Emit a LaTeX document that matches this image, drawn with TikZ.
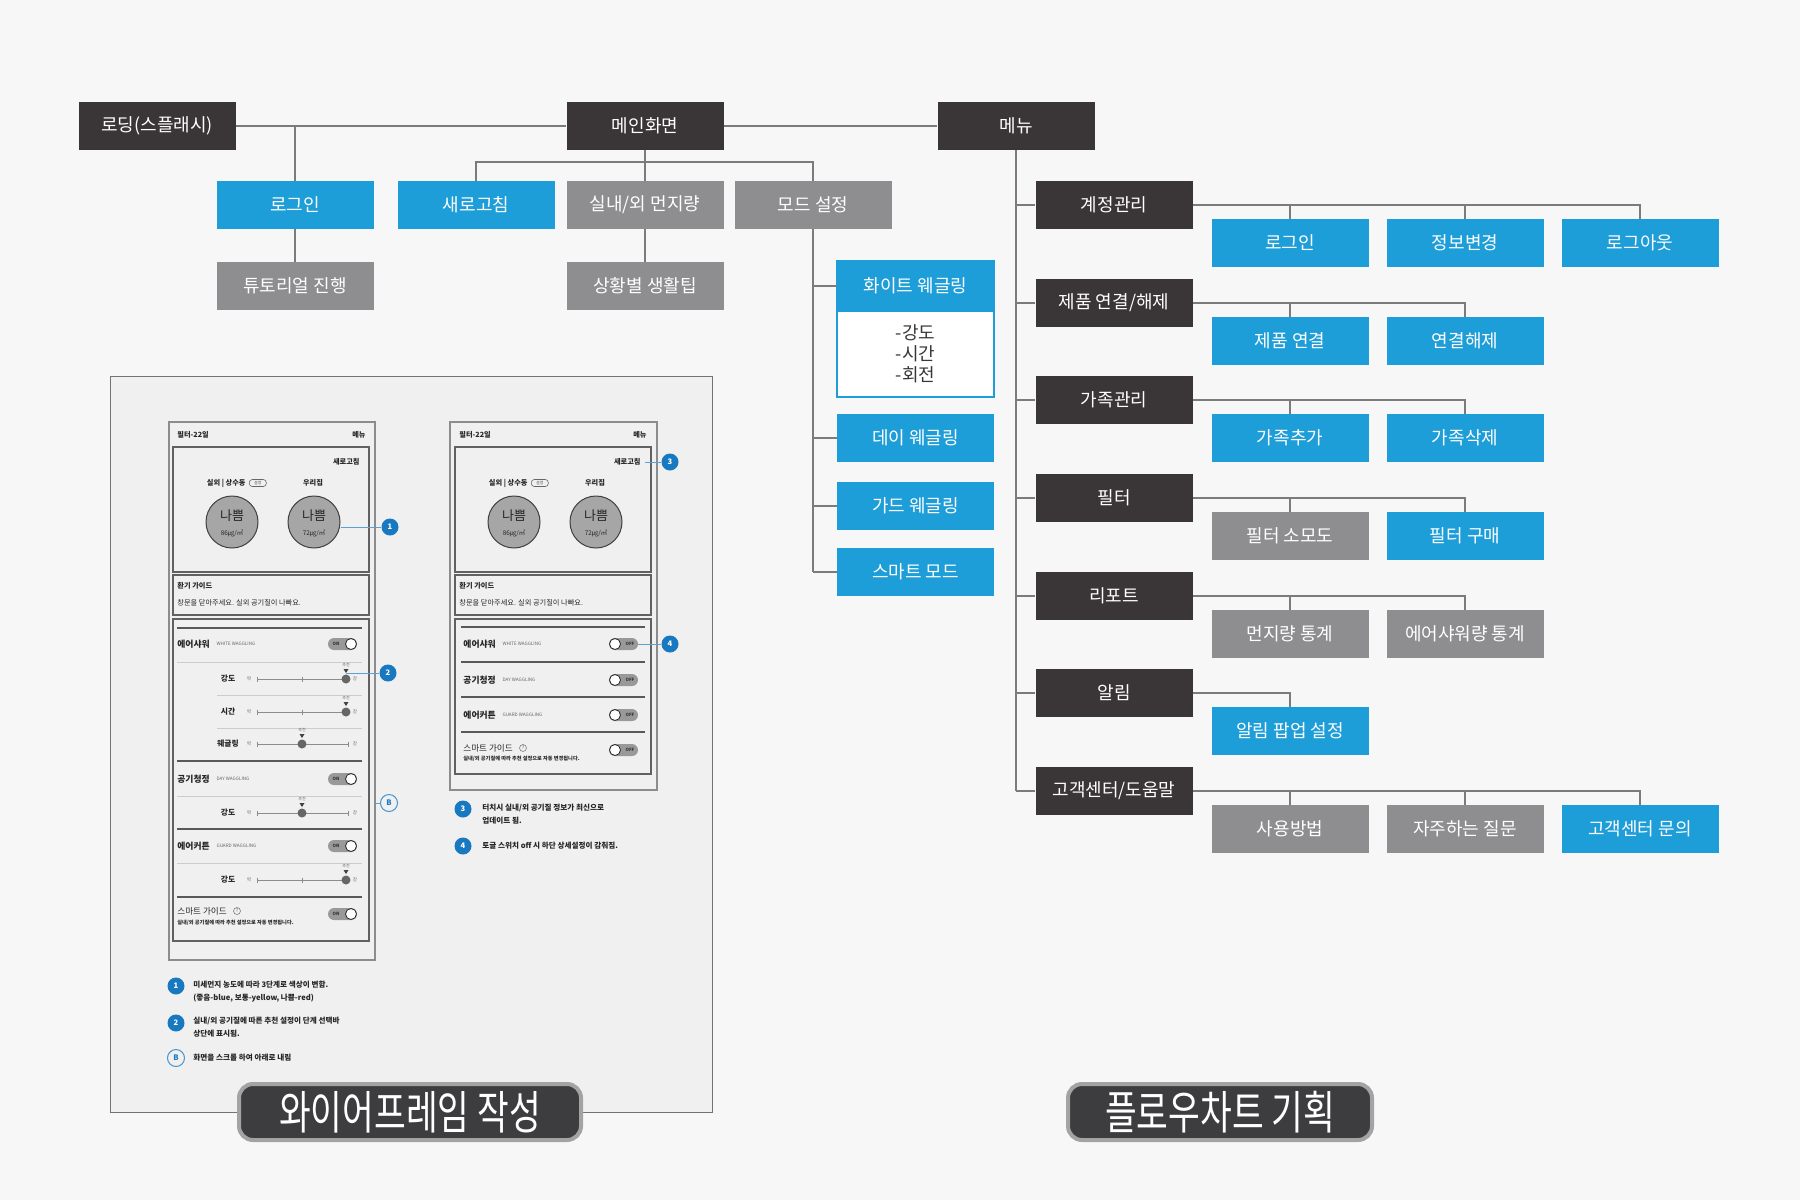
\documentclass[tikz,border=0pt]{standalone}
\usepackage{fontspec}
\setmainfont{Noto Sans CJK KR}
\newfontfamily\titlefont[FakeStretch=0.75]{Noto Sans CJK KR}
\usepackage{xcolor}
\usetikzlibrary{positioning}

\definecolor{bgcol}{HTML}{F7F7F7}
\definecolor{boxdark}{HTML}{3A3637}
\definecolor{boxblue}{HTML}{1E9ED8}
\definecolor{boxgray}{HTML}{8E8E91}
\definecolor{linecol}{HTML}{7B7B7B}
\definecolor{panelcol}{HTML}{F0F0F0}
\definecolor{callblue}{HTML}{1878C0}
\definecolor{titledark}{HTML}{3D3D3F}
\definecolor{titlegray}{HTML}{A3A3A3}
\definecolor{aqgray}{HTML}{A6A6A6}

\begin{document}
\begin{tikzpicture}[x=0.5pt, y=-0.5pt,
    box/.style={minimum width=78.5pt, minimum height=24pt, inner sep=0pt, text=white, font=\fontsize{9}{10}\selectfont},
    darkbox/.style={box, fill=boxdark},
    bluebox/.style={box, fill=boxblue},
    graybox/.style={box, fill=boxgray},
    link/.style={draw=linecol, line width=0.9pt},
    titlebox/.style={fill=titledark, draw=titlegray, line width=2pt, rounded corners=7pt, minimum height=28pt, inner sep=0pt, text=white, font=\titlefont\fontsize{23}{23}\selectfont},
    phone/.style={draw=black!45, line width=0.6pt, fill=panelcol, inner sep=0pt},
    wfbox/.style={draw=black!62, line width=0.7pt},
    wftext/.style={inner sep=0pt, text=black!85, font=\fontsize{3.6}{4}\selectfont},
    wfbold/.style={inner sep=0pt, text=black!85, font=\bfseries\fontsize{3.6}{4}\selectfont},
    wfrow/.style={inner sep=0pt, text=black!85, font=\bfseries\fontsize{4.4}{5}\selectfont},
    wfslab/.style={inner sep=0pt, text=black!85, font=\bfseries\fontsize{3.9}{4}\selectfont},
    wfsub/.style={inner sep=0pt, text=black!60, font=\fontsize{2.3}{3}\selectfont},
    wfnote/.style={inner sep=0pt, anchor=west, text=black!85, font=\bfseries\fontsize{3.8}{4}\selectfont},
    aqring/.style={circle, minimum size=26pt, inner sep=0pt, fill=aqgray, draw=black!75, line width=0.5pt},
    pill/.style={draw=black!60, line width=0.3pt, rounded corners=1.5pt, minimum width=8.5pt, minimum height=3.5pt, inner sep=0pt, font=\fontsize{2}{2}\selectfont, text=black!70},
    togglepill/.style={minimum width=14.5pt, minimum height=6pt, inner sep=0pt, rounded corners=3pt, fill=black!40},
    knob/.style={circle, minimum size=5.5pt, inner sep=0pt, fill=white, draw=black!85, line width=0.4pt},
    togtext/.style={inner sep=0pt, font=\bfseries\fontsize{2.2}{2}\selectfont, text=black!80},
    slide/.style={draw=black!45, line width=0.4pt},
    dot/.style={circle, minimum size=4.5pt, inner sep=0pt, fill=black!60},
    sepdark/.style={draw=black!65, line width=0.6pt},
    seplight/.style={draw=black!20, line width=0.4pt},
    callout/.style={circle, minimum size=8.5pt, inner sep=0pt, fill=callblue, text=white, font=\bfseries\fontsize{3.8}{4}\selectfont},
    outcallout/.style={circle, minimum size=8.5pt, inner sep=0pt, fill=panelcol, draw=callblue!80, line width=0.5pt, text=callblue, font=\bfseries\fontsize{3.8}{4}\selectfont},
    callline/.style={draw=callblue!70!white, line width=0.5pt}
  ]
  \fill[bgcol] (0,0) rectangle (1800,1200);
  \useasboundingbox (0,0) rectangle (1800,1200);

  % top level
  \node[darkbox] (load) at (157,126) {로딩(스플래시)};
  \node[darkbox] (main) at (645,126) {메인화면};
  \node[darkbox] (menu) at (1016,126) {메뉴};

  \node[bluebox] (login) at (295,205) {로그인};
  \node[graybox] (tutor) at (295,286) {튜토리얼 진행};
  \node[bluebox] (refresh) at (476,205) {새로고침};
  \node[graybox] (dust) at (645,205) {실내/외 먼지량};
  \node[graybox] (tips) at (645,286) {상황별 생활팁};
  \node[graybox] (mode) at (813,205) {모드 설정};

  % modes
  \node[bluebox, minimum height=25pt, draw=boxblue, line width=0.8pt, outer sep=0pt] (white) at (915.5,286) {화이트 웨글링};
  \node[box, below=0pt of white, minimum height=43pt, outer sep=0pt, fill=white, draw=boxblue, line width=0.8pt, text=boxdark, align=center, font=\fontsize{9}{10.5}\selectfont] (whitelist) {-강도\\-시간\\-회전};
  \node[bluebox] (day) at (915.5,438) {데이 웨글링};
  \node[bluebox] (guard) at (915.5,506) {가드 웨글링};
  \node[bluebox] (smart) at (915.5,572) {스마트 모드};

  % menu
  \node[darkbox] (account) at (1114,205) {계정관리};
  \node[darkbox] (product) at (1114,303) {제품 연결/해제};
  \node[darkbox] (family) at (1114,400) {가족관리};
  \node[darkbox] (filter) at (1114,498) {필터};
  \node[darkbox] (report) at (1114,596) {리포트};
  \node[darkbox] (alarm) at (1114,693) {알림};
  \node[darkbox] (help) at (1114,791) {고객센터/도움말};

  \node[bluebox] (acclogin) at (1290,243) {로그인};
  \node[bluebox] (accinfo) at (1465,243) {정보변경};
  \node[bluebox] (acclogout) at (1640,243) {로그아웃};
  \node[bluebox] (prodlink) at (1290,341) {제품 연결};
  \node[bluebox] (produnlink) at (1465,341) {연결해제};
  \node[bluebox] (famadd) at (1290,438) {가족추가};
  \node[bluebox] (famdel) at (1465,438) {가족삭제};
  \node[graybox] (filtlife) at (1290,536) {필터 소모도};
  \node[bluebox] (filtbuy) at (1465,536) {필터 구매};
  \node[graybox] (repdust) at (1290,634) {먼지량 통계};
  \node[graybox] (repshower) at (1465,634) {에어샤워량 통계};
  \node[bluebox] (alarmpop) at (1290,731) {알림 팝업 설정};
  \node[graybox] (helpuse) at (1290,829) {사용방법};
  \node[graybox] (helpfaq) at (1465,829) {자주하는 질문};
  \node[bluebox] (helpask) at (1640,829) {고객센터 문의};

  % connectors
  \draw[link] (load) -- (main);
  \draw[link] (main) -- (menu);
  \draw[link] (login.north |- load.east) -- (login);
  \draw[link] (login) -- (tutor);
  \draw[link] (main) -- (dust);
  \draw[link] (dust) -- (tips);
  \coordinate (mainfork) at (645,162);
  \draw[link] (refresh.north) |- (mainfork) -| (mode.north);
  \draw[link] (mode.south) -- (mode.south |- smart.west);
  \foreach \m in {white, day, guard, smart}
    \draw[link] (mode.south |- \m.west) -- (\m.west);

  \draw[link] (menu.south) -- (menu.south |- help.west);
  \foreach \c in {account, product, family, filter, report, alarm, help}
    \draw[link] (menu.south |- \c.west) -- (\c.west);
  \foreach \p/\c in {account/acclogout, product/produnlink, family/famdel, filter/filtbuy, report/repshower, alarm/alarmpop, help/helpask}
    \draw[link] (\p.east) -| (\c.north);
  \foreach \p/\c in {account/acclogin, account/accinfo, product/prodlink, family/famadd, filter/filtlife, report/repdust, help/helpuse, help/helpfaq}
    \draw[link] (\c.north) -- (\c.north |- \p.east);

  % wireframe panel
  \draw[draw=black!55, fill=panelcol, line width=0.5pt] (110,376) rectangle (712,1112);

  % phone 1
  \node[phone, minimum width=103pt, minimum height=269pt] (phone1) at (272,691) {};
  \node[wfbold, anchor=west] (p1date) at (177,435) {필터-22일};
  \node[wfbold, anchor=east] (p1menu) at (366,435) {메뉴};
  \draw[wfbox] (173,447) rectangle (369,572);
  \node[wfbold, anchor=east] (p1refresh) at (360,462) {새로고침};
  \node[wfbold, anchor=east] (p1out) at (246,483) {실외 | 상수동};
  \node[pill, right=1.5pt of p1out] (p1set) {설정};
  \node[wfbold] (p1home) at (313,483) {우리집};
  \node[aqring] (p1aqout) at (232,522) {};
  \node[aqring] (p1aqhome) at (314,522) {};
  \node[inner sep=0pt, font=\fontsize{6.5}{7}\selectfont, text=black!85] (p1bad1) at (232,516) {나쁨};
  \node[inner sep=0pt, font=\fontsize{6.5}{7}\selectfont, text=black!85] (p1bad2) at (314,516) {나쁨};
  \node[wftext, font=\fontsize{3.2}{4}\selectfont] (p1val1) at (232,533) {86㎍/㎥};
  \node[wftext, font=\fontsize{3.2}{4}\selectfont] (p1val2) at (314,533) {72㎍/㎥};

  \draw[wfbox] (173,575) rectangle (369,615);
  \node[wfbold, anchor=west] (p1guide) at (177,586) {환기 가이드};
  \node[wftext, anchor=west] (p1guidetxt) at (177,603) {창문을 닫아주세요. 실외 공기질이 나빠요.};

  \draw[wfbox] (173,619) rectangle (369,941);
  \foreach \ly in {628,761,829,897}
    \draw[sepdark] (177,\ly) -- (362,\ly);
  \foreach \ly in {662,796,863}
    \draw[seplight] (177,\ly) -- (362,\ly);
  \foreach \ly in {695,728}
    \draw[seplight] (217,\ly) -- (362,\ly);

  \foreach \ry/\kr/\en in {644/에어샤워/WHITE WAGGLING, 779/공기청정/DAY WAGGLING, 846/에어커튼/GUARD WAGGLING} {
    \node[wfrow, anchor=west] (p1row\ry) at (177,\ry) {\kr};
    \node[wfsub, right=3pt of p1row\ry] (p1sub\ry) {\en};
  }
  \foreach \ty in {644,779,846,914} {
    \node[togglepill] (p1tog\ty) at (342.5,\ty) {};
    \node[knob] (p1knob\ty) at (351,\ty) {};
    \node[togtext] (p1on\ty) at (336,\ty) {ON};
  }
  \foreach \sy/\kx/\lab in {679/346/강도, 712/346/시간, 744/302/웨글링, 813/302/강도, 880/346/강도} {
    \node[wfslab] (p1lab\sy) at (228,\sy) {\lab};
    \node[wfsub] (p1weak\sy) at (249,\sy) {약};
    \node[wfsub] (p1strong\sy) at (355,\sy) {강};
    \draw[slide] (257,\sy) -- (348,\sy);
    \foreach \tx in {257,302,348}
      \draw[slide] (\tx,\sy-2.5) -- (\tx,\sy+2.5);
    \node[dot] (p1dot\sy) at (\kx,\sy) {};
    \node[wfsub, font=\fontsize{2}{2}\selectfont] (p1rec\sy) at (\kx,\sy-14) {추천};
    \fill[black!75] (\kx-2.5,\sy-10) -- (\kx+2.5,\sy-10) -- (\kx,\sy-6) -- cycle;
  }
  \node[wftext, anchor=west, font=\fontsize{4.3}{5}\selectfont] (p1smart) at (177,911) {스마트 가이드};
  \node[circle, draw=black!50, line width=0.3pt, inner sep=0pt, minimum size=3.5pt, text=black!60, font=\fontsize{2.5}{2}\selectfont, right=3pt of p1smart] (p1help) {?};
  \node[wftext, anchor=west, font=\bfseries\fontsize{2.6}{3}\selectfont] (p1smarttxt) at (177,923) {실내/외 공기질에 따라 추천 설정으로 자동 변경됩니다.};

  % phone 1 callouts
  \node[callout] (c1) at (390,527) {1};
  \draw[callline] (p1aqhome.east |- c1) -- (c1);
  \node[callout] (c2) at (388,673) {2};
  \draw[callline] (c2 -| p1dot679) -- (c2);
  \node[outcallout] (cB) at (389,803) {B};
  \draw[callline] (cB -| phone1.east) -- (cB);

  \node[callout] (n1) at (176,986) {1};
  \node[wfnote] (n1a) at (193,985) {미세먼지 농도에 따라 3단계로 색상이 변함.};
  \node[wfnote] (n1b) at (193,998) {(좋음-blue, 보통-yellow, 나쁨-red)};
  \node[callout] (n2) at (176,1023) {2};
  \node[wfnote] (n2a) at (193,1021) {실내/외 공기질에 따른 추천 설정이 단계 선택바};
  \node[wfnote] (n2b) at (193,1034) {상단에 표시됨.};
  \node[outcallout] (nB) at (176,1058) {B};
  \node[wfnote] (nBa) at (193,1058) {화면을 스크롤 하여 아래로 내림};

  % phone 2
  \node[phone, minimum width=103.5pt, minimum height=184pt] (phone2) at (553.5,606) {};
  \node[wfbold, anchor=west] (p2date) at (459,435) {필터-22일};
  \node[wfbold, anchor=east] (p2menu) at (647,435) {메뉴};
  \draw[wfbox] (455,447) rectangle (651,572);
  \node[wfbold, anchor=east] (p2refresh) at (641,462) {새로고침};
  \node[wfbold, anchor=east] (p2out) at (528,483) {실외 | 상수동};
  \node[pill, right=1.5pt of p2out] (p2set) {설정};
  \node[wfbold] (p2home) at (595,483) {우리집};
  \node[aqring] (p2aqout) at (514,522) {};
  \node[aqring] (p2aqhome) at (596,522) {};
  \node[inner sep=0pt, font=\fontsize{6.5}{7}\selectfont, text=black!85] (p2bad1) at (514,516) {나쁨};
  \node[inner sep=0pt, font=\fontsize{6.5}{7}\selectfont, text=black!85] (p2bad2) at (596,516) {나쁨};
  \node[wftext, font=\fontsize{3.2}{4}\selectfont] (p2val1) at (514,533) {86㎍/㎥};
  \node[wftext, font=\fontsize{3.2}{4}\selectfont] (p2val2) at (596,533) {72㎍/㎥};

  \draw[wfbox] (455,575) rectangle (651,615);
  \node[wfbold, anchor=west] (p2guide) at (459,586) {환기 가이드};
  \node[wftext, anchor=west] (p2guidetxt) at (459,603) {창문을 닫아주세요. 실외 공기질이 나빠요.};

  \draw[wfbox] (455,619) rectangle (651,774);
  \foreach \ly in {627,662,697,732}
    \draw[sepdark] (461,\ly) -- (645,\ly);
  \foreach \ry/\kr/\en in {644/에어샤워/WHITE WAGGLING, 680/공기청정/DAY WAGGLING, 715/에어커튼/GUARD WAGGLING} {
    \node[wfrow, anchor=west] (p2row\ry) at (463,\ry) {\kr};
    \node[wfsub, right=3pt of p2row\ry] (p2sub\ry) {\en};
  }
  \foreach \ty in {644,680,715,750} {
    \node[togglepill] (p2tog\ty) at (623.5,\ty) {};
    \node[knob] (p2knob\ty) at (615,\ty) {};
    \node[togtext] (p2off\ty) at (630,\ty) {OFF};
  }
  \node[wftext, anchor=west, font=\fontsize{4.3}{5}\selectfont] (p2smart) at (463,748) {스마트 가이드};
  \node[circle, draw=black!50, line width=0.3pt, inner sep=0pt, minimum size=3.5pt, text=black!60, font=\fontsize{2.5}{2}\selectfont, right=3pt of p2smart] (p2help) {?};
  \node[wftext, anchor=west, font=\bfseries\fontsize{2.6}{3}\selectfont] (p2smarttxt) at (463,759) {실내/외 공기질에 따라 추천 설정으로 자동 변경됩니다.};

  % phone 2 callouts
  \node[callout] (c3) at (670,462) {3};
  \draw[callline, shorten <=2pt] (p2refresh.east) -- (c3);
  \node[callout] (c4) at (670,644) {4};
  \draw[callline] (p2tog644.east) -- (c4);

  \node[callout] (n3) at (463,809) {3};
  \node[wfnote] (n3a) at (482,808) {터치시 실내/외 공기질 정보가 최신으로};
  \node[wfnote] (n3b) at (482,821) {업데이트 됨.};
  \node[callout] (n4) at (463,846) {4};
  \node[wfnote] (n4a) at (482,846) {토글 스위치 off 시 하단 상세설정이 감춰짐.};

  % titles
  \node[titlebox, minimum width=171pt] (wftitle) at (410,1112) {와이어프레임 작성};
  \node[titlebox, minimum width=152pt] (fctitle) at (1220,1112) {플로우차트 기획};
\end{tikzpicture}
\end{document}
